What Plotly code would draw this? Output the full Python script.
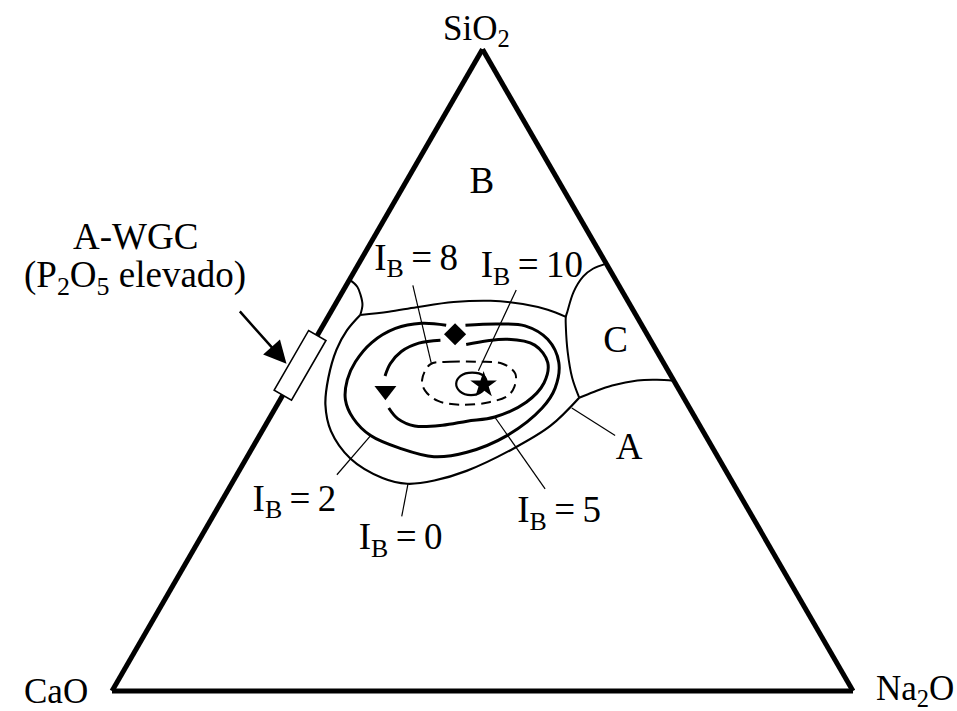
import math
import plotly.graph_objects as go

# ---------------------------------------------------------------
# Compositions in wt% : SiO2 (apex), Na2O (right corner); CaO is the balance
# ---------------------------------------------------------------

# Region boundaries
BA_ARC_SIO2 = [64.1, 63.0, 61.7, 60.2, 58.6]
BA_ARC_NA2O = [0.0, 1.6, 2.7, 3.7, 4.2]

TOP_SIO2 = [58.6, 59.1, 59.8, 60.6, 60.8, 60.3, 59.4, 58.3]
TOP_NA2O = [4.2, 7.8, 11.2, 15.8, 20.7, 25.3, 29.1, 32.1]

C_BOUND_SIO2 = [66.6, 65.8, 64.6, 62.2, 59.1, 58.3, 56.7, 52.8, 48.8, 45.7]
C_BOUND_NA2O = [33.4, 32.0, 31.3, 31.2, 31.9, 32.1, 32.9, 35.1, 37.7, 40.2]

AC_SIO2 = [45.7, 46.6, 47.6, 48.4, 48.5, 48.35]
AC_NA2O = [40.2, 41.7, 43.7, 46.7, 49.3, 51.65]

# Iso-I_B contours
IB0_SIO2 = [58.6, 56.2, 53.2, 48.8, 44.6, 40.5, 36.2, 33.2, 32.3, 32.8, 34.3, 37.8, 41.3, 45.7]
IB0_NA2O = [4.2, 3.6, 3.7, 4.8, 6.5, 9.3, 14.1, 19.9, 23.7, 27.1, 30.7, 35.3, 38.5, 40.2]

IB2_SIO2 = [57.0, 57.2, 56.9, 54.8, 51.2, 47.2, 44.1, 39.8, 37.2, 36.5, 37.8, 39.8,
            42.5, 45.4, 48.5, 51.3, 54.3, 56.5, 57.3, 57.0]
IB2_NA2O = [19.2, 23.5, 27.3, 31.4, 34.7, 36.2, 36.0, 33.4, 29.3, 25.2, 20.0, 15.0,
            11.3, 8.8, 7.5, 7.2, 7.9, 10.0, 13.1, 16.6]

IB5_SIO2 = [54.0, 54.8, 53.9, 51.2, 48.0, 45.0, 42.7, 42.05, 41.4, 41.3, 42.4, 44.1,
            None, 49.1, 51.0, 52.9, 54.2, 54.65]
IB5_NA2O = [20.8, 26.0, 30.1, 33.2, 34.3, 33.4, 30.3, 26.9, 23.9, 20.2, 17.4, 15.3,
            None, 12.3, 12.05, 12.6, 14.3, 17.0]

IB8_SIO2 = [50.9, 51.3, 51.3, 51.0, 49.45, 47.4, 46.0, 45.0, 44.6, 45.2, 46.8, 48.5, 50.9]
IB8_NA2O = [17.5, 19.95, 23.4, 27.2, 29.7, 30.6, 30.4, 28.4, 25.0, 21.4, 18.85, 17.6, 17.5]

IB10_SIO2 = [49.6, 49.1, 47.9, 46.7, 46.1, 46.7, 47.9, 49.1, 49.6]
IB10_NA2O = [23.8, 25.6, 26.6, 26.6, 25.4, 23.6, 22.5, 22.5, 23.8]

# Contour labels and their leader lines (label end -> contour end)
IB_LABELS = ["I<sub>B</sub>\u2009=\u20090", "I<sub>B</sub>\u2009=\u20092",
             "I<sub>B</sub>\u2009=\u20095", "I<sub>B</sub>\u2009=\u20098",
             "I<sub>B</sub>\u2009=\u200910"]
IB_LABEL_SIO2 = [23.6, 29.55, 27.7, 67.1, 65.9]
IB_LABEL_NA2O = [27.15, 9.85, 46.5, 7.5, 23.7]
IB_LEADER_SIO2 = [(27.2, 32.3), (33.7, 39.8), (31.5, 42.7), (63.2, 51.0), (62.5, 49.9)]
IB_LEADER_NA2O = [(25.5, 23.8), (13.5, 15.0), (42.7, 30.3), (9.0, 17.6), (23.3, 24.5)]

# Region labels
REGION_LABELS = ["B", "C", "A"]
REGION_SIO2 = [79.0, 54.3, 37.6]
REGION_NA2O = [10.4, 40.8, 51.0]
A_LEADER_SIO2 = (44.1, 39.8)
A_LEADER_NA2O = (40.0, 48.0)

# Glass samples
SAMPLE_SYMBOLS = ["diamond", "triangle-down", "star"]
SAMPLE_SIO2 = [55.6, 46.8, 47.7]
SAMPLE_NA2O = [18.5, 13.5, 26.3]

# A-WGC range on the CaO-SiO2 join (high P2O5)
AWGC_SIO2 = [46.1, 55.4]

# ---------------------------------------------------------------
FONT = "Liberation Serif, Times New Roman, serif"
PAGE_W, PAGE_H = 957, 711
TRI_LEFT, TRI_RIGHT, TRI_BASE = 112, 853, 691
TRI_W = TRI_RIGHT - TRI_LEFT
TRI_H = TRI_W * math.sqrt(3) / 2


def balance(sio2, na2o):
    return [None if s is None else 100 - s - n for s, n in zip(sio2, na2o)]


def to_px(sio2, na2o):
    a, c = sio2 / 100, na2o / 100
    return TRI_LEFT + TRI_W * (c + a / 2), TRI_BASE - TRI_H * a


def px_paper(x, y):
    return x / PAGE_W, 1 - y / PAGE_H


def curve(sio2, na2o, width, dash="solid", shape="spline"):
    return go.Scatterternary(
        a=sio2, b=balance(sio2, na2o), c=na2o, mode="lines",
        line=dict(color="black", width=width, dash=dash, shape=shape),
        hoverinfo="skip", showlegend=False,
    )


fig = go.Figure()

# region boundaries
fig.add_trace(curve(BA_ARC_SIO2, BA_ARC_NA2O, 2))
fig.add_trace(curve(TOP_SIO2, TOP_NA2O, 2))
fig.add_trace(curve(C_BOUND_SIO2, C_BOUND_NA2O, 2))
fig.add_trace(curve(AC_SIO2, AC_NA2O, 2))

# contours
fig.add_trace(curve(IB0_SIO2, IB0_NA2O, 2.2))
fig.add_trace(curve(IB2_SIO2, IB2_NA2O, 3))
fig.add_trace(curve(IB5_SIO2, IB5_NA2O, 3))
fig.add_trace(curve(IB8_SIO2, IB8_NA2O, 2, dash="10px,6px"))
fig.add_trace(curve(IB10_SIO2, IB10_NA2O, 2.2))

# leader lines
for s_pair, n_pair in list(zip(IB_LEADER_SIO2, IB_LEADER_NA2O)) + [(A_LEADER_SIO2, A_LEADER_NA2O)]:
    fig.add_trace(curve(list(s_pair), list(n_pair), 1.2, shape="linear"))

# sample markers
MARKER_SIZE = {"diamond": 17, "triangle-down": 19, "star": 20}
for sym, s, n in zip(SAMPLE_SYMBOLS, SAMPLE_SIO2, SAMPLE_NA2O):
    fig.add_trace(go.Scatterternary(
        a=[s], b=[100 - s - n], c=[n], mode="markers",
        marker=dict(symbol=sym, size=MARKER_SIZE[sym], color="black", line=dict(width=0)),
        hoverinfo="skip", showlegend=False,
    ))

# contour labels
fig.add_trace(go.Scatterternary(
    a=IB_LABEL_SIO2, b=balance(IB_LABEL_SIO2, IB_LABEL_NA2O), c=IB_LABEL_NA2O,
    mode="text", text=IB_LABELS, textposition="middle center",
    textfont=dict(family=FONT, size=37, color="black"),
    hoverinfo="skip", showlegend=False, cliponaxis=False,
))

# region labels
fig.add_trace(go.Scatterternary(
    a=REGION_SIO2, b=balance(REGION_SIO2, REGION_NA2O), c=REGION_NA2O,
    mode="text", text=REGION_LABELS, textposition="middle center",
    textfont=dict(family=FONT, size=37, color="black"),
    hoverinfo="skip", showlegend=False, cliponaxis=False,
))

axis_style = dict(
    showline=True, linecolor="black", linewidth=5, showgrid=False,
    showticklabels=False, ticks="", title=dict(text=""), min=0,
)

fig.update_layout(
    width=PAGE_W, height=PAGE_H,
    margin=dict(l=0, r=0, t=0, b=0),
    paper_bgcolor="white",
    ternary=dict(
        sum=100, bgcolor="white",
        domain=dict(
            x=[TRI_LEFT / PAGE_W, TRI_RIGHT / PAGE_W],
            y=[(PAGE_H - TRI_BASE) / PAGE_H, (PAGE_H - TRI_BASE + TRI_H) / PAGE_H],
        ),
        aaxis=axis_style, baxis=axis_style, caxis=axis_style,
    ),
)

# A-WGC box straddling the CaO-SiO2 side
x1, y1 = to_px(AWGC_SIO2[0], 0)
x2, y2 = to_px(AWGC_SIO2[1], 0)
ux, uy = (x2 - x1), (y2 - y1)
ln = math.hypot(ux, uy)
nx, ny = -uy / ln, ux / ln          # normal
if nx > 0:
    nx, ny = -nx, -ny                # point outward (left)
hw = 10
corners = [(x1 + nx * hw, y1 + ny * hw), (x2 + nx * hw, y2 + ny * hw),
           (x2 - nx * hw, y2 - ny * hw), (x1 - nx * hw, y1 - ny * hw)]
path = "M " + " L ".join("%.4f,%.4f" % px_paper(x, y) for x, y in corners) + " Z"
fig.add_shape(type="path", path=path, xref="paper", yref="paper",
              fillcolor="white", line=dict(color="black", width=1.6), layer="above")

# arrow pointing at the box
mx, my = (x1 + x2) / 2, (y1 + y2) / 2
tipx, tipy = px_paper(mx + nx * (hw + 1) - 4, my + ny * (hw + 1) + 4)
fig.add_annotation(x=tipx, y=tipy, xref="paper", yref="paper", text="",
                   showarrow=True, ax=-48, ay=-54, arrowhead=2, arrowsize=1.8,
                   arrowwidth=2.5, arrowcolor="black", standoff=0)

# text annotations
def note(text, x, y, size):
    px, py = px_paper(x, y)
    fig.add_annotation(x=px, y=py, xref="paper", yref="paper", text=text,
                       showarrow=False, xanchor="center", yanchor="middle",
                       font=dict(family=FONT, size=size, color="black"))

note("SiO<sub>2</sub>", 476, 31, 35)
note("CaO", 56, 691, 35)
note("Na<sub>2</sub>O", 915, 690, 35)
note("A-WGC", 135, 236, 37)
note("(P<sub>2</sub>O<sub>5</sub> elevado)", 135, 277, 37)

fig.write_html("out.html")
